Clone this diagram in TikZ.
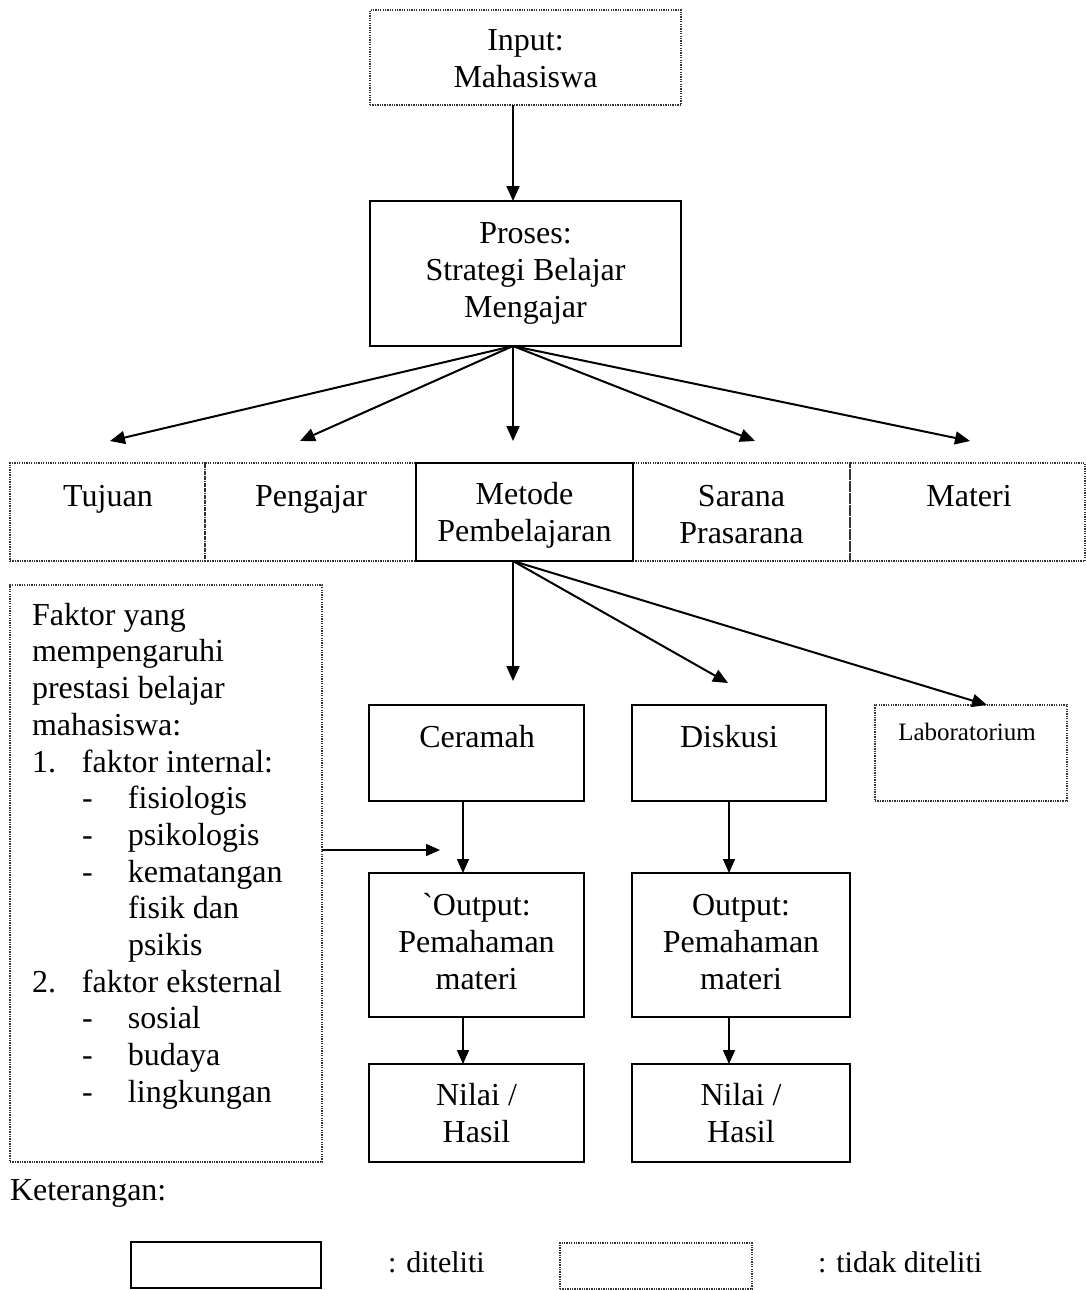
\documentclass[tikz,border=0pt]{standalone}
\usepackage{fontspec}
\setmainfont{Liberation Serif}
\usetikzlibrary{arrows.meta,calc}
\begin{document}
\begin{tikzpicture}[x=1pt,y=-1pt,
  every node/.style={inner sep=0pt,outer sep=0pt,font=\fontsize{32}{37}\selectfont,align=center},
  solidbox/.style={draw=black,line width=2pt,rectangle},
  dotbox/.style={draw=black!80,line width=1.3pt,dash pattern=on 1.3pt off 1.1pt,rectangle},
  arr/.style={draw=black,line width=2pt,-{Triangle[length=15pt,width=13pt]}},
  arrthin/.style={draw=black,line width=1.6pt,-{Triangle[length=14pt,width=12pt]}}]
\useasboundingbox (0,0) rectangle (1086,1290);
% top
\node[dotbox,minimum width=311,minimum height=95] (input) at (525.5,57.5) {};
\node (inputt) at (525.5,59) {Input:\\Mahasiswa};
\node[solidbox,minimum width=311,minimum height=145] (proses) at (525.5,273.5) {Proses:\\Strategi Belajar\\Mengajar};
\coordinate (inx) at (513,0);
\draw[arr] (input.south -| inx) -- (proses.north -| inx);
% row
\node[dotbox,minimum width=195,minimum height=98] (tujuan) at (107.5,512) {};
\node[dotbox,minimum width=211,minimum height=98] (pengajar) at (310.5,512) {};
\node[dotbox,minimum width=217,minimum height=98] (sarana) at (741.5,512) {};
\node[dotbox,minimum width=235,minimum height=98] (materi) at (967.5,512) {};
\node[solidbox,minimum width=217,minimum height=98] (metode) at (524.5,512) {};
\node[anchor=base] (tujuant) at (108,506) {Tujuan};
\node[anchor=base] (pengajart) at (311,506) {Pengajar};
\node[anchor=base] (materit) at (969,506) {Materi};
\node (metodet) at (524.5,515) {Metode\\Pembelajaran};
\node (saranat) at (741.5,515) {Sarana\\Prasarana};
% fan from proses
\coordinate (pf) at (513,346);
\coordinate (e1) at (110,441);
\coordinate (e2) at (300,441);
\coordinate (e3) at (513,441);
\coordinate (e4) at (755,441);
\coordinate (e5) at (970,441);
\foreach \e in {e1,e2,e3,e4,e5} \draw[arr] (pf) -- (\e);
% second level
\node[solidbox,minimum width=215,minimum height=96] (ceramah) at (476.5,753) {};
\node[anchor=base] (ceramaht) at (477,747) {Ceramah};
\node[solidbox,minimum width=194,minimum height=96] (diskusi) at (729,753) {};
\node[anchor=base] (diskusit) at (729,747) {Diskusi};
\node[dotbox,minimum width=192,minimum height=96] (lab) at (971,753) {};
\node[font=\fontsize{25}{30}\selectfont] (labt) at (967,732) {Laboratorium};
\coordinate (mf) at (513,561);
\coordinate (m1) at (513,681);
\coordinate (m2) at (728,683);
\draw[arr] (mf) -- (m1);
\draw[arr] (mf) -- (m2);
\draw[arr] (mf) -- (987,705);
% outputs
\node[solidbox,minimum width=215,minimum height=144] (out1) at (476.5,945) {};
\node (out1t) at (476.5,942) {\textasciigrave Output:\\Pemahaman\\materi};
\node[solidbox,minimum width=218,minimum height=144] (out2) at (741,945) {};
\node (out2t) at (741,942) {Output:\\Pemahaman\\materi};
\node[solidbox,minimum width=215,minimum height=98] (nil1) at (476.5,1113) {Nilai /\\Hasil};
\node[solidbox,minimum width=218,minimum height=98] (nil2) at (741,1113) {Nilai /\\Hasil};
\coordinate (c1x) at (463,0);
\coordinate (c2x) at (729,0);
\draw[arrthin] (ceramah.south -| c1x) -- (out1.north -| c1x);
\draw[arrthin] (diskusi.south -| c2x) -- (out2.north -| c2x);
\draw[arrthin] (out1.south -| c1x) -- (nil1.north -| c1x);
\draw[arrthin] (out2.south -| c2x) -- (nil2.north -| c2x);
% faktor box
\node[dotbox,minimum width=312,minimum height=577] (faktor) at (166,873.5) {};
\node[anchor=north west,align=left,font=\fontsize{32}{36.7}\selectfont] (faktort) at (32,603)
{Faktor yang\\mempengaruhi\\prestasi belajar\\mahasiswa:\\
\makebox[50pt][l]{1.}faktor internal:\\
\hspace*{50pt}\makebox[46pt][l]{-}fisiologis\\
\hspace*{50pt}\makebox[46pt][l]{-}psikologis\\
\hspace*{50pt}\makebox[46pt][l]{-}kematangan\\
\hspace*{96pt}fisik dan\\
\hspace*{96pt}psikis\\
\makebox[50pt][l]{2.}faktor eksternal\\
\hspace*{50pt}\makebox[46pt][l]{-}sosial\\
\hspace*{50pt}\makebox[46pt][l]{-}budaya\\
\hspace*{50pt}\makebox[46pt][l]{-}lingkungan};
\coordinate (fy) at (0,850);
\coordinate (fend) at (440,850);
\draw[arrthin] (faktor.east |- fy) -- (fend);
% legend
\node[anchor=base west] (ket) at (10,1200) {Keterangan:};
\node[solidbox,minimum width=190,minimum height=46] (leg1) at (226,1265) {};
\node[anchor=base west,font=\fontsize{30}{36}\selectfont] (leg1t) at (388,1272) {: diteliti};
\node[dotbox,minimum width=192,minimum height=46] (leg2) at (656,1266) {};
\node[anchor=base west,font=\fontsize{30}{36}\selectfont] (leg2t) at (818,1272) {: tidak diteliti};
\end{tikzpicture}
\end{document}
